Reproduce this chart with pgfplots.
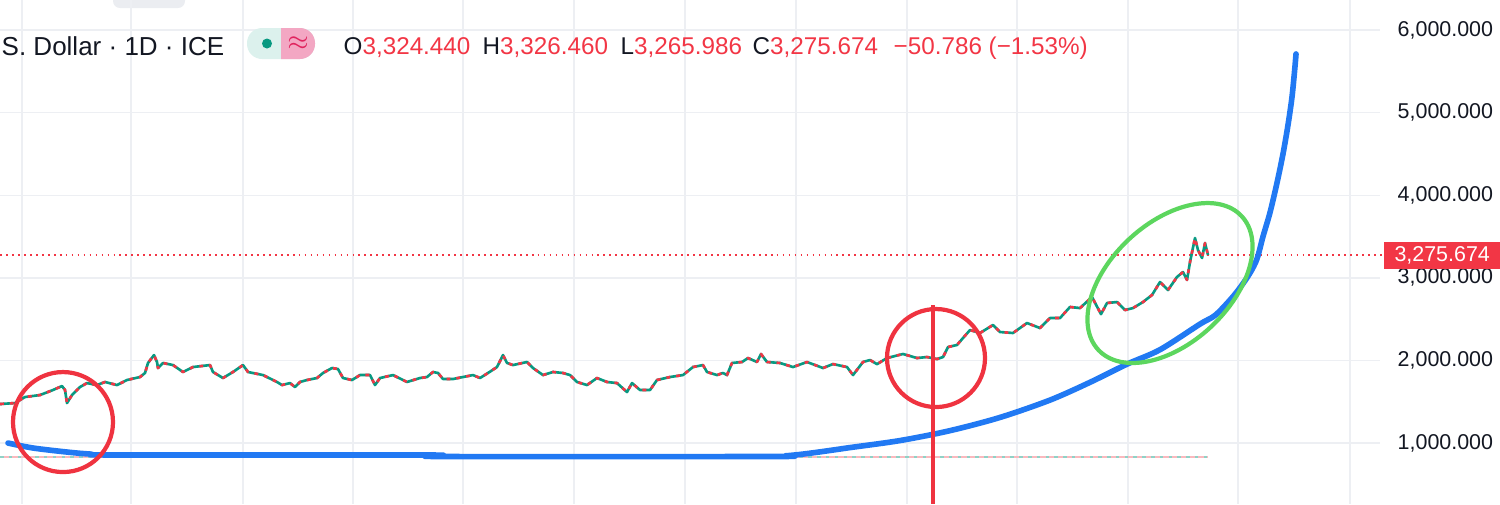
\documentclass[border=0pt]{standalone}
\usepackage{pgfplots}
\usepackage{pgfplotstable}
\pgfplotsset{compat=1.18}
\usepackage{fontspec}
\setmainfont{Liberation Sans}
\definecolor{tvred}{HTML}{F23645}
\definecolor{tvteal}{HTML}{089981}
\definecolor{tvblue}{HTML}{2179F3}
\definecolor{tvgreen}{HTML}{5CD65E}
\definecolor{circred}{HTML}{EF3340}
\definecolor{gridc}{HTML}{EDEFF3}
\definecolor{txt}{HTML}{131722}
\definecolor{pillteal}{HTML}{DCF1ED}
\definecolor{pillpink}{HTML}{F3A7C3}
\definecolor{pillmag}{HTML}{E0245E}
\definecolor{tabgray}{HTML}{EBEDF1}

\pgfplotstableread{
x v
0 1472
15 1484
25 1557
40 1581
53 1642
62 1690
65 1642
67 1484
72 1581
80 1678
87 1726
97 1702
105 1739
117 1702
127 1763
140 1799
145 1848
148 1969
154 2065
157 1981
158 1908
163 1969
173 1944
183 1860
193 1920
210 1944
213 1860
223 1787
233 1860
243 1944
248 1860
263 1823
277 1739
282 1702
290 1726
295 1678
300 1739
307 1763
317 1787
323 1848
332 1908
338 1896
343 1787
352 1763
360 1823
370 1823
375 1702
380 1787
393 1823
407 1739
420 1787
427 1799
433 1860
438 1848
443 1775
453 1775
463 1799
473 1823
480 1787
488 1848
497 1920
503 2065
507 1969
513 1944
527 1981
533 1908
543 1823
553 1860
563 1848
570 1823
577 1739
587 1702
597 1787
607 1739
617 1726
627 1617
632 1726
640 1642
650 1642
657 1763
670 1799
683 1823
693 1920
703 1944
707 1860
717 1823
723 1848
727 1823
732 1969
742 1981
748 2029
757 1981
761 2078
767 1981
780 1969
793 1920
807 1981
823 1908
833 1956
847 1920
853 1823
863 1981
870 2005
877 1955
887 2029
903 2078
917 2029
927 2041
937 2017
943 2041
948 2162
957 2187
963 2271
970 2368
980 2332
993 2429
1000 2344
1013 2332
1027 2453
1040 2392
1050 2513
1060 2513
1070 2647
1080 2634
1092 2768
1101 2560
1107 2695
1117 2707
1125 2610
1133 2634
1143 2707
1152 2792
1160 2949
1168 2852
1177 3010
1183 3070
1187 2974
1190 3191
1195 3482
1198 3337
1202 3240
1205 3421
1208 3276
}\price

\pgfplotstableread{
x v
8 1000
33 940
67 891
90 867
120 855
430 855
440 837
770 837
785 845
800 862
820 893
850 945
900 1030
950 1150
1000 1310
1050 1520
1090 1735
1127 1955
1160 2130
1200 2440
1215 2545
1230 2731
1240 2880
1250 3058
1257 3230
1263 3500
1270 3790
1277 4150
1283 4500
1288 4850
1292 5189
1295 5560
1296 5710
}\curve

\begin{document}
\begin{tikzpicture}
\useasboundingbox (0,0) rectangle (150mm,50.4mm);
\fill[tabgray, rounded corners=0.7mm] (11.3mm,49.6mm) rectangle (18.5mm,52mm);
\begin{axis}[
  at={(0,0)}, anchor=south west,
  scale only axis, width=138mm, height=50.4mm,
  xmin=0, xmax=1380, ymin=262, ymax=6363,
  axis line style={draw=none},
  major tick length=0pt,
  xtick={22,131,243,353,463,574,685,796,907,1017,1128,1238,1350},
  xticklabels={},
  ytick={1000,2000,3000,4000,5000,6000},
  yticklabels={{1,000.000},{2,000.000},{3,000.000},{4,000.000},{5,000.000},{6,000.000}},
  yticklabel pos=right,
  yticklabel style={anchor=west, inner sep=0pt, xshift=1.7mm, font=\fontsize{6.1}{7}\selectfont, text=txt},
  grid=major,
  major grid style={gridc, line width=0.4pt},
  clip=false,
]
\addplot[no markers, color=tvred!35, line width=0.5pt] coordinates {(0,830) (1208,830)};
\addplot[no markers, color=tvteal!45, line width=0.5pt, dash pattern=on 1pt off 1.5pt] coordinates {(0,830) (1208,830)};
\addplot[no markers, color=tvred, line width=0.5pt, dash pattern=on 0.5pt off 1.2pt] coordinates {(0,3275.674) (1383,3275.674)};
\addplot[no markers, color=tvteal, line width=0.75pt, line join=round] table[x=x, y=v] {\price};
\addplot[no markers, color=tvred, line width=0.75pt, dash pattern=on 1.1pt off 1.7pt, line join=round] table[x=x, y=v] {\price};
\addplot[no markers, color=tvblue, line width=1.6pt, line cap=round, line join=round, smooth, tension=0.5] table[x=x, y=v] {\curve};
\draw[circred, line width=1.2pt] (axis cs:63,1254) circle[radius=5mm];
\draw[circred, line width=1.2pt] (axis cs:936,2029) circle[radius=4.9mm];
\draw[circred, line width=1.2pt] (axis cs:933,2671) -- (axis cs:933,262);
\coordinate (E) at (axis cs:1170,2937);
\node[fill=tvred, text=white, anchor=west, inner sep=0pt, minimum width=11.7mm, minimum height=2.7mm, font=\fontsize{6.1}{7}\selectfont] at (axis cs:1383,3275.674) {3,275.674};
\end{axis}
\draw[tvgreen, line width=1.2pt, shift={(E)}, rotate=43] (0,0) ellipse[x radius=9.8mm, y radius=6mm];
% header
\node[anchor=base west, inner sep=0pt, font=\fontsize{7.4}{9}\selectfont, text=txt] at (0.1mm,44.9mm) {S. Dollar · 1D · ICE};
\fill[pillteal, rounded corners=1.5mm] (24.7mm,44.5mm) rectangle (31.5mm,47.6mm);
\begin{scope}
\clip (28.1mm,44mm) rectangle (32mm,48mm);
\fill[pillpink, rounded corners=1.5mm] (24.7mm,44.5mm) rectangle (31.5mm,47.6mm);
\end{scope}
\fill[tvteal] (26.7mm,46.05mm) circle[radius=0.5mm];
\node[text=pillmag, inner sep=0pt, font=\fontsize{7.5}{8}\selectfont] at (29.8mm,46.05mm) {$\approx$};
\node[anchor=base west, inner sep=0pt, font=\fontsize{6.9}{8}\selectfont, text=txt] at (34.3mm,45mm) {O\textcolor{tvred}{3,324.440}};
\node[anchor=base west, inner sep=0pt, font=\fontsize{6.9}{8}\selectfont, text=txt] at (48.2mm,45mm) {H\textcolor{tvred}{3,326.460}};
\node[anchor=base west, inner sep=0pt, font=\fontsize{6.9}{8}\selectfont, text=txt] at (62.0mm,45mm) {L\textcolor{tvred}{3,265.986}};
\node[anchor=base west, inner sep=0pt, font=\fontsize{6.9}{8}\selectfont, text=txt] at (75.2mm,45mm) {C\textcolor{tvred}{3,275.674}};
\node[anchor=base west, inner sep=0pt, font=\fontsize{6.9}{8}\selectfont, text=tvred] at (89.3mm,45mm) {−50.786 (−1.53\%)};
\end{tikzpicture}
\end{document}
